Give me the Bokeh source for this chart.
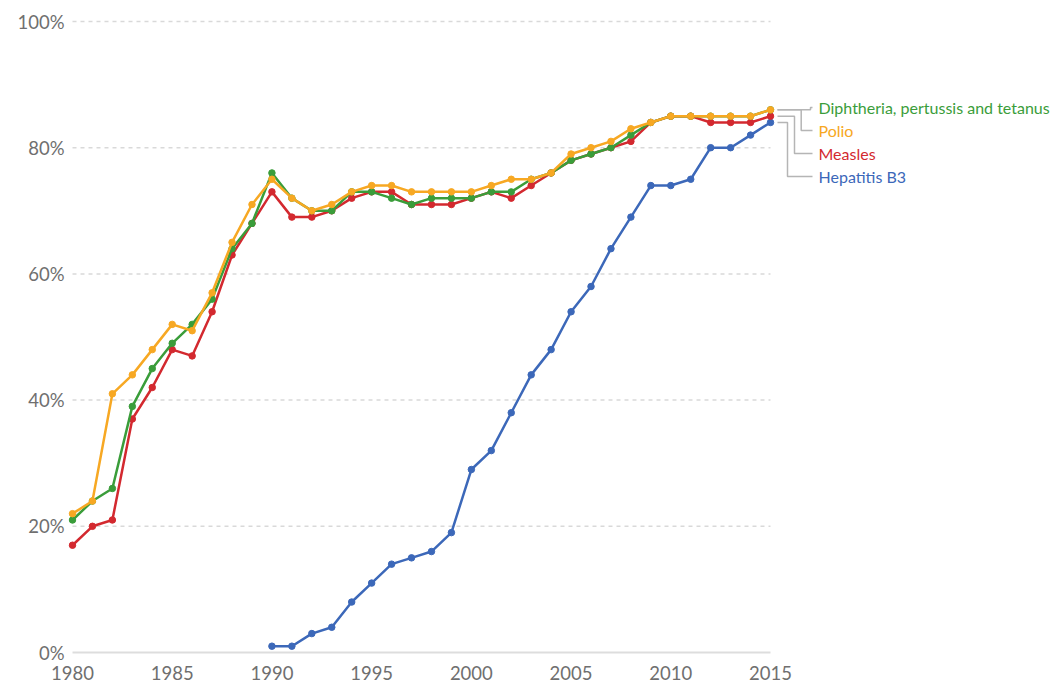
from bokeh.plotting import figure
from bokeh.models import Range1d, FixedTicker, PrintfTickFormatter, ColumnDataSource
from bokeh.core.properties import value
from bokeh.embed import file_html
from bokeh.resources import INLINE

years = list(range(1980, 2016))
dtp = [21, 24, 26, 39, 45, 49, 52, 56, 64, 68, 76, 72, 70, 70, 73, 73, 72, 71, 72, 72,
       72, 73, 73, 75, 76, 78, 79, 80, 82, 84, 85, 85, 85, 85, 85, 86]
polio = [22, 24, 41, 44, 48, 52, 51, 57, 65, 71, 75, 72, 70, 71, 73, 74, 74, 73, 73, 73,
         73, 74, 75, 75, 76, 79, 80, 81, 83, 84, 85, 85, 85, 85, 85, 86]
measles = [17, 20, 21, 37, 42, 48, 47, 54, 63, 68, 73, 69, 69, 70, 72, 73, 73, 71, 71, 71,
           72, 73, 72, 74, 76, 78, 79, 80, 81, 84, 85, 85, 84, 84, 84, 85]
hep_years = list(range(1990, 2016))
hepb3 = [1, 1, 3, 4, 8, 11, 14, 15, 16, 19, 29, 32, 38, 44, 48, 54, 58, 64, 69, 74,
         74, 75, 80, 80, 82, 84]

series_names = ["Diphtheria, pertussis and tetanus", "Polio", "Measles", "Hepatitis B3"]
colors = ["#3a9d3a", "#f7a823", "#d3292f", "#3c68b9"]

y_ticks = [0, 20, 40, 60, 80, 100]
x_ticks = [1980, 1985, 1990, 1995, 2000, 2005, 2010, 2015]

# pixel mapping helpers (layout only)
px_per_year = 19.943
px_per_pct = 6.31

p = figure(width=1050, height=686, output_backend="svg", toolbar_location=None,
           x_range=Range1d(1980 - 5 / px_per_year, 1980 + (1050 - 72) / px_per_year),
           y_range=Range1d(-3 / px_per_pct, (652 - 10) / px_per_pct),
           min_border_left=67, min_border_right=0, min_border_top=10, min_border_bottom=31)
p.outline_line_color = None
p.xgrid.visible = False
p.ygrid.visible = False

for ax in (p.xaxis[0], p.yaxis[0]):
    ax.axis_line_color = None
    ax.major_tick_line_color = None
    ax.minor_tick_line_color = None
    ax.major_tick_out = 0
    ax.major_tick_in = 0
    ax.major_label_text_font = "Lato"
    ax.major_label_text_font_size = "18.5px"
    ax.major_label_text_color = "#6f6f6f"

p.xaxis.ticker = FixedTicker(ticks=x_ticks)
p.yaxis.ticker = FixedTicker(ticks=y_ticks)
p.yaxis.formatter = PrintfTickFormatter(format="%d%%")
p.xaxis.major_label_standoff = 10
p.yaxis.major_label_standoff = 3

# gridlines
grid_vals = y_ticks[1:]
p.segment(x0=[x_ticks[0]] * len(grid_vals), x1=[x_ticks[-1]] * len(grid_vals),
          y0=grid_vals, y1=grid_vals, line_color="#d9d9d9", line_width=1.5, line_dash="4 4")
p.segment(x0=[x_ticks[0]], x1=[x_ticks[-1]], y0=[0], y1=[0], line_color="#dddddd", line_width=2)

# data lines (drawing order: hep, measles, dtp, polio)
data = {
    "Diphtheria, pertussis and tetanus": (years, dtp),
    "Polio": (years, polio),
    "Measles": (years, measles),
    "Hepatitis B3": (hep_years, hepb3),
}
col = dict(zip(series_names, colors))
for name in ["Hepatitis B3", "Measles", "Diphtheria, pertussis and tetanus", "Polio"]:
    xs, ys = data[name]
    src = ColumnDataSource(dict(x=xs, y=ys))
    p.line("x", "y", source=src, line_color=col[name], line_width=2.5)
    p.scatter("x", "y", source=src, size=6.5, fill_color=col[name], line_color=col[name])

# label connectors and labels
label_page_y = [107, 130, 153, 176]
elbow_page_x = [810, 800.7, 794, 787]
x_start = 1980 + (777 - 72) / px_per_year
x_end = 1980 + (812 - 72) / px_per_year
x_text = 1980 + (818 - 72) / px_per_year
for i, name in enumerate(series_names):
    xs, ys = data[name]
    v_end = ys[-1]
    v_lab = (652 - label_page_y[i]) / px_per_pct
    xe = 1980 + (elbow_page_x[i] - 72) / px_per_year
    p.line([x_start, xe, xe, x_end], [v_end, v_end, v_lab, v_lab],
           line_color="#b5b5b5", line_width=1.5)
    p.text(x=[x_text], y=[v_lab], text=[name], text_color=col[name],
           text_font=value("Lato"), text_font_size="16px", text_baseline="middle",
           text_align="left")

open("out.html", "w").write(file_html(p, INLINE))
